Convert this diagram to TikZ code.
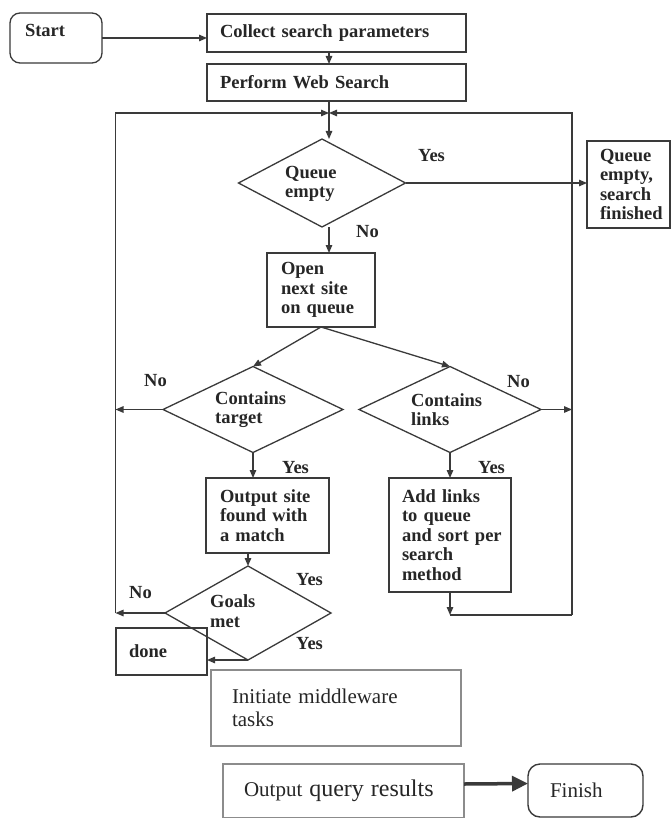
\documentclass[tikz,border=0pt]{standalone}
\usepackage{fontspec}
\setmainfont{Liberation Serif}
\usetikzlibrary{arrows.meta,calc,shapes.geometric}
\definecolor{ink}{HTML}{262626}
\definecolor{edge}{HTML}{3A3A3A}
\definecolor{pale}{HTML}{8C8C8C}
\begin{document}
\begin{tikzpicture}[x=1pt,y=-1pt,
  txt/.style={font=\fontsize{18.5}{19.5}\selectfont\bfseries, text=ink},
  box/.style={txt, draw=edge, line width=1.3pt, align=left, inner ysep=0pt, outer sep=0pt},
  dia/.style={diamond, draw=edge, line width=1.3pt, inner sep=0pt, outer sep=0pt},
  lbl/.style={txt, anchor=west, inner sep=0pt, align=left},
  wire/.style={draw=edge, line width=1.3pt},
  arr/.style={wire, -{Triangle[length=8pt,width=6.5pt]}},
  lite/.style={font=\fontsize{21}{23}\selectfont, text=ink, draw=pale, line width=1.4pt,
               align=left, inner ysep=0pt, outer sep=0pt},
]
\path[fill=white] (0,0) rectangle (671,818);
\useasboundingbox (0,0) rectangle (671,818);

% --- process boxes ---
\node[box, rounded corners=10pt, minimum height=50pt, text width=62pt, inner xsep=15pt,
      text depth=16pt] (start) at (56,38) {Start};
\node[box, minimum height=38pt, text width=233pt, inner xsep=13pt] (collect) at (336.5,33)
  {Collect search parameters};
\node[box, minimum height=37pt, text width=233pt, inner xsep=13pt] (perform) at (336.5,82.5)
  {Perform Web Search};
\node[box, minimum height=87pt, text width=57pt, inner xsep=13pt] (qebox) at (628.5,184.5)
  {Queue\\empty,\\search\\finished};
\node[box, minimum height=74pt, text width=80pt, inner xsep=14pt] (open) at (321,290)
  {Open\\next site\\on queue};
\node[box, minimum height=75pt, text width=95pt, inner xsep=14pt] (os) at (267.5,515.5)
  {Output site\\found with\\a match};
\node[box, minimum height=114pt, text width=96pt, inner xsep=13pt] (al) at (450,535)
  {Add links\\to queue\\\mbox{and sort per}\\search\\method};
\node[box, minimum height=47pt, text width=65pt, inner xsep=13pt] (done) at (161.5,651.5)
  {done};

% --- decisions ---
\node[dia, minimum width=167pt, minimum height=88pt] (qe) at (322,183) {};
\node[dia, minimum width=180pt, minimum height=86pt] (ct) at (253,409.5) {};
\node[dia, minimum width=182pt, minimum height=86pt] (cl) at (450,409.5) {};
\node[dia, minimum width=166pt, minimum height=94pt] (goals) at (248,613) {};
\node[lbl] (qetext) at (285,184) {Queue\\empty};
\node[lbl] (cttext) at (215,409.5) {Contains\\target};
\node[lbl] (cltext) at (411,409.5) {Contains\\links};
\node[lbl] (goalstext) at (210,611) {Goals\\met};

% --- branch labels ---
\node[lbl] (qeyes) at (418,156) {Yes};
\node[lbl] (qeno) at (356,232) {No};
\node[lbl] (ctno) at (144,381) {No};
\node[lbl] (clno) at (507,382) {No};
\node[lbl] (ctyes) at (282,468) {Yes};
\node[lbl] (clyes) at (478,468) {Yes};
\node[lbl] (gyes1) at (296,580) {Yes};
\node[lbl] (gyes2) at (296,644) {Yes};
\node[lbl] (gno) at (129,593) {No};

% --- loop frame corners ---
\coordinate (jt) at (329,113);
\coordinate (lt) at (115.5,113);
\coordinate (rt) at (572,113);
\coordinate (rb) at (572,615);
\coordinate (ab) at (450,615);

% --- connectors ---
\draw[arr] (start.east) -- (start.east -| collect.west);
\draw[arr] (collect.south -| jt) -- (perform.north -| jt);
\draw[arr] (perform.south -| jt) -- (qe.north -| jt);
\draw[arr] (goals.west -| lt) -- (lt) -- (jt);
\draw[arr] (rb) -- (rt) -- (jt);
\draw[arr] (qe.east) -- (qe.east -| qebox.west);
\draw[arr] (qe.south -| jt) -- (open.north -| jt);
\draw[arr] (open.south) -- (ct.north);
\draw[arr] (open.south) -- (cl.north);
\draw[arr] (ct.west) -- (ct.west -| lt);
\draw[arr] (cl.east) -- (cl.east -| rt);
\draw[arr] (ct.south) -- (ct.south |- os.north);
\draw[arr] (cl.south) -- (cl.south |- al.north);
\draw[arr] (goals.north |- os.south) -- (goals.north);
\draw[arr] (goals.west) -- (goals.west -| lt);
\draw[arr] (goals.south) -- (goals.south -| done.east);
\draw[arr] (al.south) -- (ab);
\draw[wire] (ab) -- (rb);

% --- final stage ---
\node[lite, minimum height=76pt, text width=208pt, inner xsep=21pt] (init) at (336,708)
  {Initiate middleware\\tasks};
\node[lite, minimum height=54pt, text width=199pt, inner xsep=21pt] (oq) at (343.5,791)
  {Output {\fontsize{24}{26}\selectfont query results}};
\node[lite, draw=edge, rounded corners=12pt, minimum height=53pt, text width=71pt,
      inner xsep=22pt] (fin) at (585.5,790.5) {Finish};
\draw[draw=edge, line width=3.5pt, -{Triangle[length=16pt,width=15pt]}]
  ($(oq.east)+(0,-7)$) -- ($(fin.west)+(0,-7)$);
\end{tikzpicture}
\end{document}
